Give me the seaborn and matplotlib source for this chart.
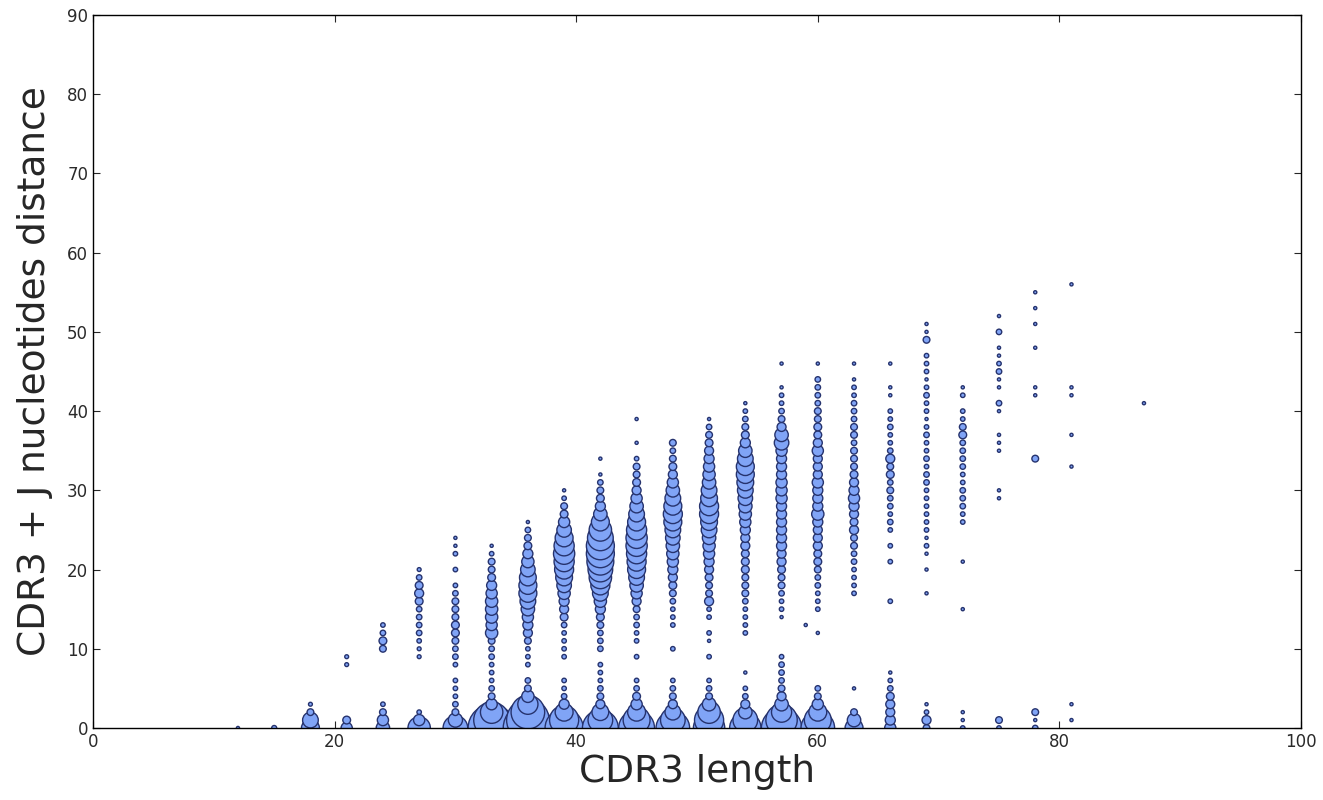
import matplotlib
matplotlib.use("Agg")
import matplotlib.pyplot as plt
import seaborn as sns
import pandas as pd

# ---- data: CDR3 length columns, distance values and counts (bubble area) ----
lengths = [12, 15, 18, 21, 24, 27, 30, 33, 36, 39, 42, 45, 48, 51, 54, 57, 59,
           60, 63, 66, 69, 72, 75, 78, 81, 87]

d12 = [0]
c12 = [2]
d15 = [0]
c15 = [5]
d18 = [0, 1, 2, 3]
c18 = [64, 49, 9, 3]
d21 = [0, 1, 8, 9]
c21 = [25, 12, 3, 3]
d24 = [0, 1, 2, 3, 10, 11, 12, 13]
c24 = [36, 25, 9, 4, 9, 12, 6, 4]
d27 = [0, 1, 2, 9, 10, 11, 12, 13, 14, 15, 16, 17, 18, 19, 20]
c27 = [100, 25, 4, 3, 3, 4, 6, 6, 6, 6, 12, 16, 12, 6, 3]
d30 = [0, 1, 2, 3, 4, 5, 6, 8, 9, 10, 11, 12, 13, 14, 15, 16, 17, 18, 20, 22, 23, 24]
c30 = [121, 40, 9, 6, 4, 4, 4, 4, 6, 6, 9, 12, 12, 9, 9, 9, 6, 4, 4, 4, 2, 2]
d33 = [0, 1, 2, 3, 4, 5, 6, 7, 8, 9, 10, 11, 12, 13, 14, 15, 16, 17, 18, 19, 20, 21, 22, 23]
c33 = [441, 256, 100, 25, 9, 6, 4, 4, 4, 6, 6, 9, 30, 25, 30, 30, 30, 25, 20, 12, 9, 9, 4, 2]
d36 = [0, 1, 2, 3, 4, 5, 6, 8, 9, 10, 11, 12, 13, 14, 15, 16, 17, 18, 19, 20, 21, 22, 23, 24, 25, 26]
c36 = [484, 361, 225, 81, 30, 9, 6, 4, 4, 4, 9, 16, 20, 25, 36, 49, 64, 64, 56, 42, 30, 20, 12, 9, 6, 2]
d39 = [0, 1, 2, 3, 4, 5, 6, 9, 10, 11, 12, 13, 14, 15, 16, 17, 18, 19, 20, 21, 22, 23, 24, 25, 26, 27, 28, 29, 30]
c39 = [289, 169, 64, 20, 6, 4, 4, 4, 4, 4, 4, 6, 12, 16, 20, 30, 42, 56, 72, 81, 90, 81, 64, 42, 25, 12, 9, 4, 2]
d42 = [0, 1, 2, 3, 4, 5, 6, 7, 8, 10, 11, 12, 13, 14, 15, 16, 17, 18, 19, 20, 21, 22, 23, 24, 25, 26, 27, 28, 29, 30, 31, 32, 34]
c42 = [256, 121, 56, 16, 9, 6, 4, 4, 4, 6, 6, 6, 9, 12, 20, 30, 49, 72, 100, 121, 144, 156, 156, 132, 100, 64, 36, 20, 12, 9, 6, 2, 2]
d45 = [0, 1, 2, 3, 4, 5, 6, 9, 11, 12, 13, 14, 15, 16, 17, 18, 19, 20, 21, 22, 23, 24, 25, 26, 27, 28, 29, 30, 31, 32, 33, 34, 36, 39]
c45 = [256, 144, 64, 25, 12, 6, 4, 4, 4, 4, 6, 6, 9, 16, 25, 36, 49, 64, 72, 81, 90, 90, 81, 64, 49, 36, 25, 16, 12, 9, 9, 4, 2, 2]
d48 = [0, 1, 2, 3, 4, 5, 6, 10, 13, 14, 15, 16, 17, 18, 19, 20, 21, 22, 23, 24, 25, 26, 27, 28, 29, 30, 31, 32, 33, 34, 35, 36]
c48 = [225, 121, 49, 16, 9, 6, 4, 4, 4, 4, 4, 6, 9, 12, 16, 20, 25, 30, 36, 42, 49, 64, 72, 64, 49, 36, 25, 16, 12, 9, 6, 9]
d51 = [0, 1, 2, 3, 4, 5, 6, 9, 11, 12, 14, 15, 16, 17, 18, 19, 20, 21, 22, 23, 24, 25, 26, 27, 28, 29, 30, 31, 32, 33, 34, 35, 36, 37, 38, 39]
c51 = [196, 169, 100, 36, 9, 6, 4, 4, 2, 4, 4, 4, 16, 9, 9, 12, 16, 20, 25, 30, 36, 49, 56, 72, 72, 56, 49, 36, 30, 25, 20, 16, 12, 9, 6, 2]
d54 = [0, 1, 2, 3, 4, 5, 7, 12, 13, 14, 15, 16, 17, 18, 19, 20, 21, 22, 23, 24, 25, 26, 27, 28, 29, 30, 31, 32, 33, 34, 35, 36, 37, 38, 39, 40, 41]
c54 = [196, 121, 36, 16, 6, 4, 2, 4, 4, 4, 4, 6, 9, 9, 9, 12, 12, 12, 16, 16, 20, 25, 30, 36, 42, 49, 56, 64, 64, 49, 36, 20, 12, 9, 6, 4, 2]
d57 = [0, 1, 2, 3, 4, 5, 6, 7, 8, 9, 14, 15, 16, 17, 18, 19, 20, 21, 22, 23, 24, 25, 26, 27, 28, 29, 30,
       31, 32, 33, 34, 35, 36, 37, 38, 39, 40, 41, 42, 43, 46]
c57 = [324, 196, 81, 36, 16, 9, 6, 6, 6, 4, 2, 4, 4, 6, 9, 9, 12, 16, 16, 20, 20, 20, 20, 20, 20, 25, 25,
       25, 20, 20, 20, 25, 42, 36, 16, 9, 6, 4, 4, 2, 2]
d59 = [13]
c59 = [2]
d60 = [0, 1, 2, 3, 4, 5, 12, 15, 16, 17, 18, 19, 20, 21, 22, 23, 24, 25, 26, 27, 28, 29, 30,
       31, 32, 33, 34, 35, 36, 37, 38, 39, 40, 41, 42, 43, 44, 46]
c60 = [225, 144, 64, 25, 9, 6, 2, 4, 4, 4, 6, 6, 9, 12, 12, 16, 16, 16, 20, 30, 20, 20, 20,
       25, 16, 16, 16, 25, 16, 12, 12, 9, 9, 6, 6, 6, 6, 2]
d63 = [0, 1, 2, 5, 17, 18, 19, 20, 21, 22, 23, 24, 25, 26, 27, 28, 29, 30, 31, 32, 33, 34, 35,
       36, 37, 38, 39, 40, 41, 42, 43, 44, 46]
c63 = [64, 36, 9, 2, 4, 4, 4, 4, 6, 6, 9, 9, 16, 12, 16, 20, 25, 20, 16, 12, 9, 9, 9,
       6, 9, 9, 6, 6, 6, 4, 4, 2, 2]
d66 = [0, 1, 2, 3, 4, 5, 6, 7, 16, 21, 23, 25, 26, 27, 28, 29, 30, 31, 32, 33, 34, 35, 36,
       37, 38, 39, 40, 42, 43, 46]
c66 = [25, 20, 16, 16, 12, 6, 4, 2, 4, 4, 4, 4, 6, 4, 6, 6, 9, 6, 12, 9, 16, 6, 4,
       4, 6, 4, 4, 2, 2, 2]
d69 = [0, 1, 2, 3, 17, 20, 22, 23, 24, 25, 26, 27, 28, 29, 30, 31, 32, 33, 34, 35, 36, 37, 38,
       39, 40, 41, 42, 43, 44, 45, 46, 47, 49, 50, 51]
c69 = [9, 16, 4, 2, 2, 2, 2, 4, 2, 4, 4, 4, 4, 4, 4, 6, 6, 4, 6, 4, 4, 6, 4,
       2, 4, 4, 6, 4, 2, 4, 4, 4, 9, 2, 2]
d72 = [0, 1, 2, 15, 21, 26, 27, 28, 29, 30, 31, 32, 33, 34, 35, 36, 37, 38, 39, 40, 42, 43]
c72 = [4, 2, 2, 2, 2, 4, 4, 6, 6, 6, 4, 4, 6, 6, 6, 6, 12, 9, 4, 4, 4, 2]
d75 = [0, 1, 29, 30, 35, 36, 37, 40, 41, 43, 44, 45, 46, 47, 48, 50, 52]
c75 = [4, 9, 2, 2, 2, 2, 2, 2, 6, 2, 2, 6, 4, 2, 2, 6, 2]
d78 = [0, 1, 2, 34, 42, 43, 48, 51, 53, 55]
c78 = [6, 2, 9, 9, 2, 2, 2, 2, 2, 2]
d81 = [1, 3, 33, 37, 42, 43, 56]
c81 = [2, 2, 2, 2, 2, 2, 2]
d87 = [41]
c87 = [2]

dists = [d12, d15, d18, d21, d24, d27, d30, d33, d36, d39, d42, d45, d48, d51, d54, d57, d59,
         d60, d63, d66, d69, d72, d75, d78, d81, d87]
counts = [c12, c15, c18, c21, c24, c27, c30, c33, c36, c39, c42, c45, c48, c51, c54, c57, c59,
          c60, c63, c66, c69, c72, c75, c78, c81, c87]

rows = []
for L, ds, cs in zip(lengths, dists, counts):
    assert len(ds) == len(cs), L
    for d, c in zip(ds, cs):
        rows.append((L, d, c))
df = pd.DataFrame(rows, columns=["length", "distance", "count"])

# ---- style ----
sns.set_style("ticks", {
    "xtick.direction": "in", "ytick.direction": "in",
    "xtick.top": True, "ytick.right": True,
    "axes.edgecolor": "black",
})
plt.rcParams["font.family"] = ["DejaVu Sans"]

fig = plt.figure(figsize=(13.23, 8.0), dpi=100)
ax = fig.add_axes([93 / 1323, 1 - 728 / 800, (1301 - 93) / 1323, (728 - 15) / 800])

sns.scatterplot(data=df, x="length", y="distance", size="count",
                sizes=(0, 1300), size_norm=(0, 500), legend=False,
                color="#80a4f6", edgecolor="#26336e", linewidth=1.0, ax=ax)

ax.set_xlim(0, 100)
ax.set_ylim(0, 90)
ax.set_xticks([0, 20, 40, 60, 80, 100])
ax.set_yticks(list(range(0, 91, 10)))
ax.tick_params(axis="both", which="major", labelsize=12, length=5, width=0.8,
               labelcolor="#2a2a2a", top=True, right=True, direction="in")
for sp in ax.spines.values():
    sp.set_linewidth(1.0)
    sp.set_color("black")

ax.set_xlabel("CDR3 length", fontsize=27, labelpad=2)
ax.set_ylabel("CDR3 + J nucleotides distance", fontsize=27, labelpad=10)

fig.savefig("out.png", dpi=100)
